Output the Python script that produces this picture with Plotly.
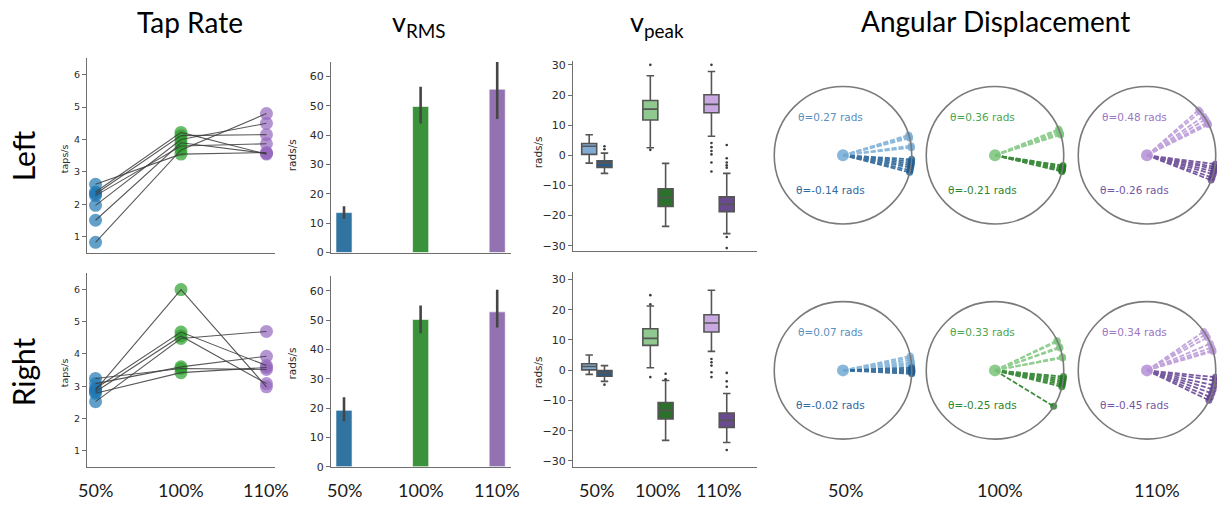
import plotly.graph_objects as go

W, H = 1217, 510
def fx(p): return p / W
def fy(p): return 1 - p / H

# ---------------- data ----------------
categories = ["50%", "100%", "110%"]
cat_pos = [0, 1, 2]

tap_left_50 = [2.62, 2.38, 2.32, 2.27, 1.97, 1.51, 0.83]
tap_left_100 = [3.55, 4.22, 4.12, 3.80, 4.00, 3.90, 3.68]
tap_left_110 = [3.60, 3.55, 4.15, 3.87, 4.50, 3.57, 4.80]
tap_right_50 = [2.88, 2.52, 2.93, 2.83, 3.24, 3.08, 2.78]
tap_right_100 = [6.00, 4.48, 4.68, 4.56, 3.55, 3.60, 3.42]
tap_right_110 = [2.98, 4.70, 3.64, 3.08, 3.52, 3.93, 3.58]

vrms_left = [13.6, 49.8, 55.7]
vrms_left_lo = [11.5, 44.0, 45.5]
vrms_left_hi = [15.8, 56.5, 65.0]
vrms_right = [19.2, 50.2, 52.8]
vrms_right_lo = [15.5, 45.5, 47.5]
vrms_right_hi = [23.7, 55.0, 60.3]

# box order: 50% +, 50% -, 100% +, 100% -, 110% +, 110% -
box_cat = [0, 0, 1, 1, 2, 2]
box_side = [-1, 1, -1, 1, -1, 1]
vpk_left_lowf = [-2.6, -6.0, 2.5, -23.6, 6.3, -26.0]
vpk_left_q1 = [0.3, -4.0, 11.7, -17.0, 14.1, -18.7]
vpk_left_med = [3.0, -2.6, 15.3, -14.0, 16.9, -16.3]
vpk_left_q3 = [3.9, -1.8, 18.2, -11.1, 20.1, -13.8]
vpk_left_upf = [6.8, 0.7, 26.4, -2.7, 27.8, -6.0]
vpk_left_out = [[], [3.0, 2.0], [30.0, 1.8], [], [30.0, 4.1, 2.7, 1.4, 0.3, -2.4, -5.4],
                [3.4, -1.0, -2.4, -3.3, -4.1, -27.1, -30.8]]
vpk_right_lowf = [-1.4, -3.7, 0.8, -23.2, 6.2, -23.9]
vpk_right_q1 = [0.1, -2.0, 8.2, -16.1, 12.6, -18.9]
vpk_right_med = [1.2, -0.9, 10.5, -13.3, 15.6, -16.6]
vpk_right_q3 = [2.1, -0.1, 13.7, -10.7, 18.3, -14.2]
vpk_right_upf = [5.0, 1.5, 21.2, -3.4, 26.4, -7.7]
vpk_right_out = [[], [-4.8], [24.8, 21.8, -2.3], [-1.2, -3.0], [3.7, 2.6, 1.5, -0.7, -2.3],
                 [-0.9, -3.7, -5.5, -26.4]]

# angular displacement (radians), per category
ang_left_pos = [[0.30, 0.28, 0.27, 0.25, 0.14, 0.12, 0.11],
                [0.39, 0.37, 0.36, 0.34, 0.32, 0.31, 0.30],
                [0.72, 0.68, 0.60, 0.55, 0.50, 0.48, 0.46]]
ang_left_neg = [[-0.06, -0.09, -0.12, -0.15, -0.18, -0.22, -0.25],
                [-0.15, -0.17, -0.19, -0.20, -0.21, -0.23, -0.24],
                [-0.13, -0.17, -0.20, -0.24, -0.28, -0.33, -0.37]]
ang_right_pos = [[0.21, 0.18, 0.15, 0.12, 0.10, 0.08, 0.07],
                 [0.45, 0.43, 0.35, 0.33, 0.20, 0.19, 0.18],
                 [0.60, 0.55, 0.50, 0.40, 0.34, 0.30, 0.28]]
ang_right_neg = [[0.04, 0.02, 0.00, -0.01, -0.02, -0.03, -0.05],
                 [-0.09, -0.12, -0.15, -0.18, -0.21, -0.24, -0.55],
                 [-0.10, -0.15, -0.22, -0.28, -0.34, -0.40, -0.45]]
ang_left_lbl_pos = [0.27, 0.36, 0.48]
ang_left_lbl_neg = [-0.14, -0.21, -0.26]
ang_right_lbl_pos = [0.07, 0.33, 0.34]
ang_right_lbl_neg = [-0.02, -0.25, -0.45]

# ---------------- styles ----------------
cat_colors = ["#1f77b4", "#2ca02c", "#9467bd"]
bar_colors = ["#3274a1", "#3a923a", "#9372b2"]
box_light = ["#80abd2", "#8fc98f", "#c9a8e2"]
box_dark = ["#2a5b88", "#2b702b", "#6a4b8e"]
ang_light = ["#7aafd6", "#7fc77f", "#b996d8"]
ang_dark = ["#1e5c91", "#1f7a1f", "#623e8f"]
txt_light = ["#5b8fc0", "#4ea64e", "#9a78c3"]
txt_dark = ["#2f6aa0", "#2f852f", "#7656a4"]
TFONT = "Lato"
NFONT = "DejaVu Sans"

fig = go.Figure()

# ---------------- Tap rate ----------------
tap_rows = [(tap_left_50, tap_left_100, tap_left_110, "x", "y"),
            (tap_right_50, tap_right_100, tap_right_110, "x2", "y2")]
for a, b, c, xa, ya in tap_rows:
    cols = [a, b, c]
    for k in range(3):
        fig.add_trace(go.Scatter(x=[cat_pos[k]] * len(cols[k]), y=cols[k], mode="markers",
                                 marker=dict(size=13, color=cat_colors[k], opacity=0.7),
                                 xaxis=xa, yaxis=ya, hoverinfo="skip", cliponaxis=False))
    for i in range(len(a)):
        fig.add_trace(go.Scatter(x=cat_pos, y=[a[i], b[i], c[i]], mode="lines",
                                 line=dict(color="rgba(60,60,60,0.85)", width=1.1),
                                 xaxis=xa, yaxis=ya, hoverinfo="skip"))

# ---------------- vRMS ----------------
for vals, lo, hi, xa, ya in [(vrms_left, vrms_left_lo, vrms_left_hi, "x3", "y3"),
                             (vrms_right, vrms_right_lo, vrms_right_hi, "x4", "y4")]:
    fig.add_trace(go.Bar(x=cat_pos, y=vals, width=0.21,
                         marker=dict(color=bar_colors, line=dict(color="rgba(255,255,255,0.6)", width=1)),
                         error_y=dict(type="data", array=[h - v for h, v in zip(hi, vals)],
                                      arrayminus=[v - l for v, l in zip(vals, lo)],
                                      color="#454545", thickness=2.6, width=0),
                         xaxis=xa, yaxis=ya, hoverinfo="skip"))

# ---------------- vpeak ----------------
vpk_rows = [(vpk_left_lowf, vpk_left_q1, vpk_left_med, vpk_left_q3, vpk_left_upf, vpk_left_out, "x5", "y5"),
            (vpk_right_lowf, vpk_right_q1, vpk_right_med, vpk_right_q3, vpk_right_upf, vpk_right_out, "x6", "y6")]
for lf, q1, md, q3, uf, outs, xa, ya in vpk_rows:
    for j in range(6):
        pos = box_cat[j] + 0.125 * box_side[j]
        fill = box_light[box_cat[j]] if box_side[j] < 0 else box_dark[box_cat[j]]
        fig.add_trace(go.Box(x=[pos], q1=[q1[j]], median=[md[j]], q3=[q3[j]],
                             lowerfence=[lf[j]], upperfence=[uf[j]], width=0.245,
                             fillcolor=fill, line=dict(color="#555555", width=1.6),
                             whiskerwidth=0.5, boxpoints=False,
                             xaxis=xa, yaxis=ya, hoverinfo="skip"))
        if outs[j]:
            fig.add_trace(go.Scatter(x=[pos] * len(outs[j]), y=outs[j], mode="markers",
                                     marker=dict(size=2.6, color="#3a3a3a"),
                                     xaxis=xa, yaxis=ya, hoverinfo="skip", cliponaxis=False))

# ---------------- angular displacement (polar) ----------------
circle_cx = [843, 995, 1147]
circle_cy = [156, 375]
R = 70
ang_rows = [(ang_left_pos, ang_left_neg, ang_left_lbl_pos, ang_left_lbl_neg),
            (ang_right_pos, ang_right_neg, ang_right_lbl_pos, ang_right_lbl_neg)]
polar_layouts = {}
annotations = []
pidx = 0
for r, (pos_a, neg_a, lp, ln) in enumerate(ang_rows):
    for k in range(3):
        pidx += 1
        name = "polar" if pidx == 1 else f"polar{pidx}"
        cx, cy = circle_cx[k], circle_cy[r]
        polar_layouts[name] = dict(
            domain=dict(x=[fx(cx - R), min(1.0, fx(cx + R))], y=[fy(cy + R), fy(cy - R)]),
            bgcolor="white",
            radialaxis=dict(visible=False, range=[0, 1]),
            angularaxis=dict(thetaunit="radians", showgrid=False, showticklabels=False,
                             ticks="", showline=True, linecolor="#7a7a7a", linewidth=1.6,
                             rotation=0, direction="counterclockwise"))
        for angs, col in [(pos_a[k], ang_light[k]), (neg_a[k], ang_dark[k])]:
            rr, tt = [], []
            for a in angs:
                rr += [0, 1, None]
                tt += [a, a, None]
            fig.add_trace(go.Scatterpolar(r=rr, theta=tt, thetaunit="radians", mode="lines",
                                          subplot=name,
                                          line=dict(color=col, width=1.8, dash="5px,2px"),
                                          opacity=0.85, hoverinfo="skip", cliponaxis=False))
            fig.add_trace(go.Scatterpolar(r=[1] * len(angs), theta=angs, thetaunit="radians",
                                          mode="markers", subplot=name,
                                          marker=dict(size=7, color=col, opacity=0.8),
                                          hoverinfo="skip", cliponaxis=False))
        fig.add_trace(go.Scatterpolar(r=[0], theta=[0], thetaunit="radians", mode="markers",
                                      subplot=name,
                                      marker=dict(size=12, color=ang_light[k], opacity=0.9),
                                      hoverinfo="skip", cliponaxis=False))
        annotations.append(dict(x=fx(cx - 13), y=fy(cy - 39), xref="paper", yref="paper",
                                xanchor="center", yanchor="middle",
                                text=f"θ={lp[k]:.2f} rads", showarrow=False,
                                font=dict(family=NFONT, size=10.5, color=txt_light[k])))
        annotations.append(dict(x=fx(cx - 13), y=fy(cy + 35), xref="paper", yref="paper",
                                xanchor="center", yanchor="middle",
                                text=f"θ={ln[k]:.2f} rads", showarrow=False,
                                font=dict(family=NFONT, size=10.5, color=txt_dark[k])))

# ---------------- axes ----------------
def xax(d0, d1, rng, anchor):
    return dict(domain=[fx(d0), fx(d1)], range=rng, anchor=anchor, showgrid=False,
                zeroline=False, showline=True, linecolor="#6e6e6e", linewidth=1.3,
                ticks="", showticklabels=False, fixedrange=True)

def yax(d_top, d_bot, rng, anchor, dtick, fsize):
    return dict(domain=[fy(d_bot), fy(d_top)], range=rng, anchor=anchor, showgrid=False,
                zeroline=False, showline=True, linecolor="#6e6e6e", linewidth=1.3,
                ticks="outside", ticklen=4, tickcolor="#6e6e6e", dtick=dtick,
                tickfont=dict(family=NFONT, size=fsize, color="#2b2b2b"), fixedrange=True)

layout_axes = dict(
    xaxis=xax(87, 275, [-0.1, 2.1], "y"),
    yaxis=yax(57.5, 255.5, [0.5, 6.5], "x", 1, 9.5),
    xaxis2=xax(87, 275, [-0.1, 2.1], "y2"),
    yaxis2=yax(276.3, 473.1, [0.5, 6.5], "x2", 1, 9.5),
    xaxis3=xax(331, 511, [-0.17, 2.18], "y3"),
    yaxis3=yax(61, 255, [0, 65], "x3", 10, 11),
    xaxis4=xax(331, 511, [-0.17, 2.18], "y4"),
    yaxis4=yax(279, 473, [0, 65], "x4", 10, 11),
    xaxis5=xax(573, 757, [-0.39, 2.62], "y5"),
    yaxis5=yax(60, 253, [-31.6, 31.3], "x5", 10, 11),
    xaxis6=xax(573, 757, [-0.39, 2.62], "y6"),
    yaxis6=yax(275, 473.3, [-32.0, 32.4], "x6", 10, 11),
)

# ---------------- text ----------------
def ann(x, y, text, size, family=TFONT, angle=0, color="#000000", xref="paper"):
    annotations.append(dict(x=x, y=y, xref=xref, yref="paper", text=text, showarrow=False,
                            textangle=angle, xanchor="center", yanchor="middle",
                            font=dict(family=family, size=size, color=color)))

ann(fx(190), fy(20), "Tap Rate", 28)
ann(fx(419), fy(22), "v<sub>RMS</sub>", 27)
ann(fx(657), fy(22), "v<sub>peak</sub>", 27)
ann(fx(995), fy(19), "Angular Displacement", 28)
ann(fx(23), fy(157), "Left", 30, angle=-90)
ann(fx(23), fy(377), "Right", 30, angle=-90)

ann(fx(64), fy(160), "taps/s", 9.5, family=NFONT, angle=-90, color="#2b2b2b")
ann(fx(64), fy(378), "taps/s", 9.5, family=NFONT, angle=-90, color="#2b2b2b")
ann(fx(292), fy(156), "rads/s", 10.5, family=NFONT, angle=-90, color="#2b2b2b")
ann(fx(292), fy(368), "rads/s", 10.5, family=NFONT, angle=-90, color="#2b2b2b")
ann(fx(538), fy(153), "rads/s", 10.5, family=NFONT, angle=-90, color="#2b2b2b")
ann(fx(538), fy(377), "rads/s", 10.5, family=NFONT, angle=-90, color="#2b2b2b")

for xr in ["x2", "x4", "x6"]:
    for k in range(3):
        ann(cat_pos[k], fy(497), categories[k], 18, xref=xr, color="#1a1a1a")
for k, xp in enumerate([845, 1000, 1157]):
    ann(fx(xp), fy(497), categories[k], 18, color="#1a1a1a")

fig.update_layout(
    width=W, height=H, autosize=False,
    margin=dict(l=0, r=0, t=0, b=0, pad=0),
    paper_bgcolor="white", plot_bgcolor="white",
    showlegend=False, annotations=annotations,
    **layout_axes, **polar_layouts,
)

fig.write_html("out.html", config={"displayModeBar": False},
               post_script="document.body.style.margin='0';document.body.style.overflow='hidden';")
